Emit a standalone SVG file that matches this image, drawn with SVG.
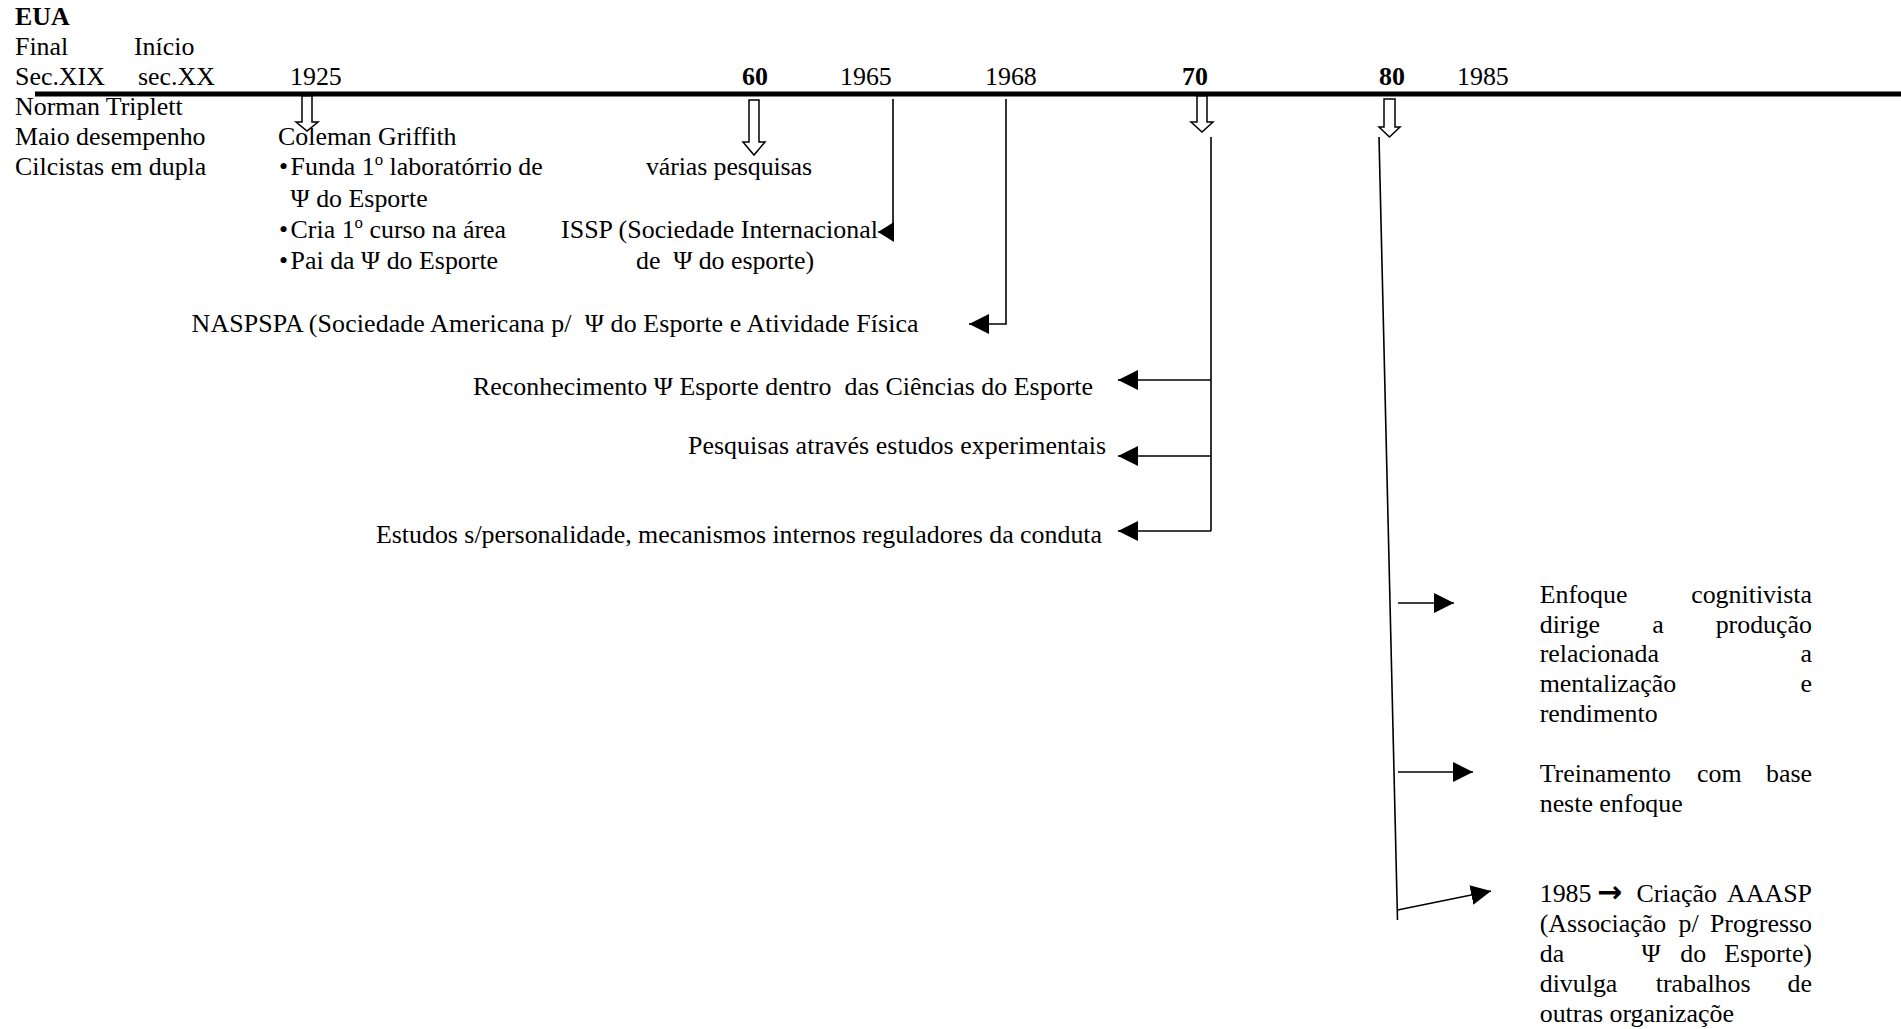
<svg xmlns="http://www.w3.org/2000/svg" width="1901" height="1029" viewBox="0 0 1901 1029">
<style>
.t{font-family:"Liberation Serif","Times New Roman",serif;font-size:25.9px;fill:#000}
.b{font-weight:bold}
.pre{white-space:pre}
.blk{fill:#fff;stroke:#000;stroke-width:1.5;stroke-linejoin:miter}
.c{fill:none;stroke:#000;stroke-width:1.6}
.ca{fill:none;stroke:#000;stroke-width:1.6;marker-end:url(#ah)}
.cs{fill:none;stroke:#000;stroke-width:1.6;marker-end:url(#ahs)}
</style>
<defs>
<marker id="ah" markerUnits="userSpaceOnUse" markerWidth="20" markerHeight="20" viewBox="0 0 20 20" refX="20" refY="10" orient="auto"><path d="M0,0 L20,10 L0,20 Z" fill="#000"/></marker>
<marker id="ahs" markerUnits="userSpaceOnUse" markerWidth="16" markerHeight="20" viewBox="0 0 16 20" refX="16" refY="10" orient="auto"><path d="M0,0 L16,10 L0,20 Z" fill="#000"/></marker>
</defs>
<rect width="1901" height="1029" fill="#fff"/>

<g id="timeline">
<line x1="35" y1="94" x2="1901" y2="94" stroke="#000" stroke-width="5"/>
</g>

<g id="left-header">
<text class="t b" x="15" y="25">EUA</text>
<text class="t" x="15" y="55">Final</text>
<text class="t" x="134" y="55">Início</text>
<text class="t" x="15" y="85">Sec.XIX</text>
<text class="t" x="138" y="85">sec.XX</text>
</g>

<g id="years">
<text class="t" x="290" y="85">1925</text>
<text class="t b" x="742" y="85">60</text>
<text class="t" x="840" y="85">1965</text>
<text class="t" x="985" y="85">1968</text>
<text class="t b" x="1182" y="85">70</text>
<text class="t b" x="1379" y="85">80</text>
<text class="t" x="1457" y="85">1985</text>
</g>

<g id="triplett">
<text class="t" x="15" y="115">Norman Triplett</text>
<text class="t" x="15" y="145">Maio desempenho</text>
<text class="t" x="15" y="175">Cilcistas em dupla</text>
</g>

<g id="griffith">
<text class="t" x="278" y="145">Coleman Griffith</text>
<text class="t" x="279" y="175">•<tspan x="290.6">Funda 1</tspan><tspan font-size="16.8" dy="-10">o</tspan><tspan dy="10"> laboratórrio de</tspan></text>
<text class="t" x="290.6" y="207">Ψ do Esporte</text>
<text class="t" x="279" y="238">•<tspan x="290.6">Cria 1</tspan><tspan font-size="16.8" dy="-10">o</tspan><tspan dy="10"> curso na área</tspan></text>
<text class="t" x="279" y="269">•<tspan x="290.6">Pai da Ψ do Esporte</tspan></text>
</g>

<g id="pesquisas60">
<text class="t" x="646" y="175" textLength="166" lengthAdjust="spacing">várias pesquisas</text>
</g>

<g id="issp">
<text class="t" x="561" y="238" textLength="317" lengthAdjust="spacing">ISSP (Sociedade Internacional</text>
<text class="t pre" x="636" y="269" textLength="178" lengthAdjust="spacing">de  Ψ do esporte)</text>
</g>

<g id="naspspa">
<text class="t pre" x="191.6" y="332" textLength="727" lengthAdjust="spacing">NASPSPA (Sociedade Americana p/  Ψ do Esporte e Atividade Física</text>
</g>

<g id="reconhecimento">
<text class="t pre" x="473" y="395" textLength="620" lengthAdjust="spacing">Reconhecimento Ψ Esporte dentro  das Ciências do Esporte</text>
</g>

<g id="experimentais">
<text class="t" x="688" y="453.5" textLength="418" lengthAdjust="spacing">Pesquisas através estudos experimentais</text>
</g>

<g id="personalidade">
<text class="t" x="376" y="543" textLength="726" lengthAdjust="spacing">Estudos s/personalidade, mecanismos internos reguladores da conduta</text>
</g>

<g id="cognitivista">
<text class="t" x="1539.7" y="603.3">Enfoque</text>
<text class="t" x="1812" y="603.3" text-anchor="end">cognitivista</text>
<text class="t" x="1539.7" y="632.7">dirige</text>
<text class="t" x="1652.2" y="632.7">a</text>
<text class="t" x="1812" y="632.7" text-anchor="end">produção</text>
<text class="t" x="1539.7" y="661.7">relacionada</text>
<text class="t" x="1812" y="661.7" text-anchor="end">a</text>
<text class="t" x="1539.7" y="691.7">mentalização</text>
<text class="t" x="1812" y="691.7" text-anchor="end">e</text>
<text class="t" x="1539.7" y="721.7">rendimento</text>
</g>

<g id="treinamento">
<text class="t" x="1539.7" y="781.7">Treinamento</text>
<text class="t" x="1697" y="781.7">com</text>
<text class="t" x="1812" y="781.7" text-anchor="end">base</text>
<text class="t" x="1539.7" y="811.7">neste enfoque</text>
</g>

<g id="aaasp">
<text class="t" x="1539.7" y="901.7">1985</text>
<text x="1597" y="901.7" style="font-family:'DejaVu Sans',sans-serif;font-size:30px;font-weight:bold">→</text>
<text class="t" x="1636.4" y="901.7">Criação</text>
<text class="t" x="1812" y="901.7" text-anchor="end">AAASP</text>
<text class="t" x="1539.7" y="931.7">(Associação</text>
<text class="t" x="1678.5" y="931.7">p/</text>
<text class="t" x="1812" y="931.7" text-anchor="end">Progresso</text>
<text class="t" x="1539.7" y="961.7">da</text>
<text class="t" x="1641.6" y="961.7">Ψ</text>
<text class="t" x="1680.3" y="961.7">do</text>
<text class="t" x="1812" y="961.7" text-anchor="end">Esporte)</text>
<text class="t" x="1539.7" y="991.7">divulga</text>
<text class="t" x="1655.7" y="991.7">trabalhos</text>
<text class="t" x="1812" y="991.7" text-anchor="end">de</text>
<text class="t" x="1539.7" y="1021.7">outras organizaçõe</text>
</g>

<g id="connectors">
<path class="blk" d="M302,96 H312 V122 H318 L307,131 L296,122 H302 Z"/>
<path class="blk" d="M749,100 H759 V142 H765 L754,155 L743,142 H749 Z"/>
<path class="blk" d="M1197,96 H1207 V122 H1213 L1202,132 L1191,122 H1197 Z"/>
<path class="blk" d="M1384,99 H1395 V127 H1400 L1389.5,137 L1379,127 H1384 Z"/>

<path class="cs" d="M893,99 V232 H878"/>
<path class="ca" d="M1006,99 V324 H969"/>

<path class="c" d="M1211,137 V531"/>
<path class="ca" d="M1211,380 H1118"/>
<path class="ca" d="M1211,456 H1118"/>
<path class="ca" d="M1211,531 H1118"/>

<path class="c" d="M1379,137 L1397.5,920"/>
<path class="ca" d="M1398,603 H1454"/>
<path class="ca" d="M1398,772 H1473"/>
<path class="ca" d="M1397.5,910 L1491,891"/>
</g>
</svg>
